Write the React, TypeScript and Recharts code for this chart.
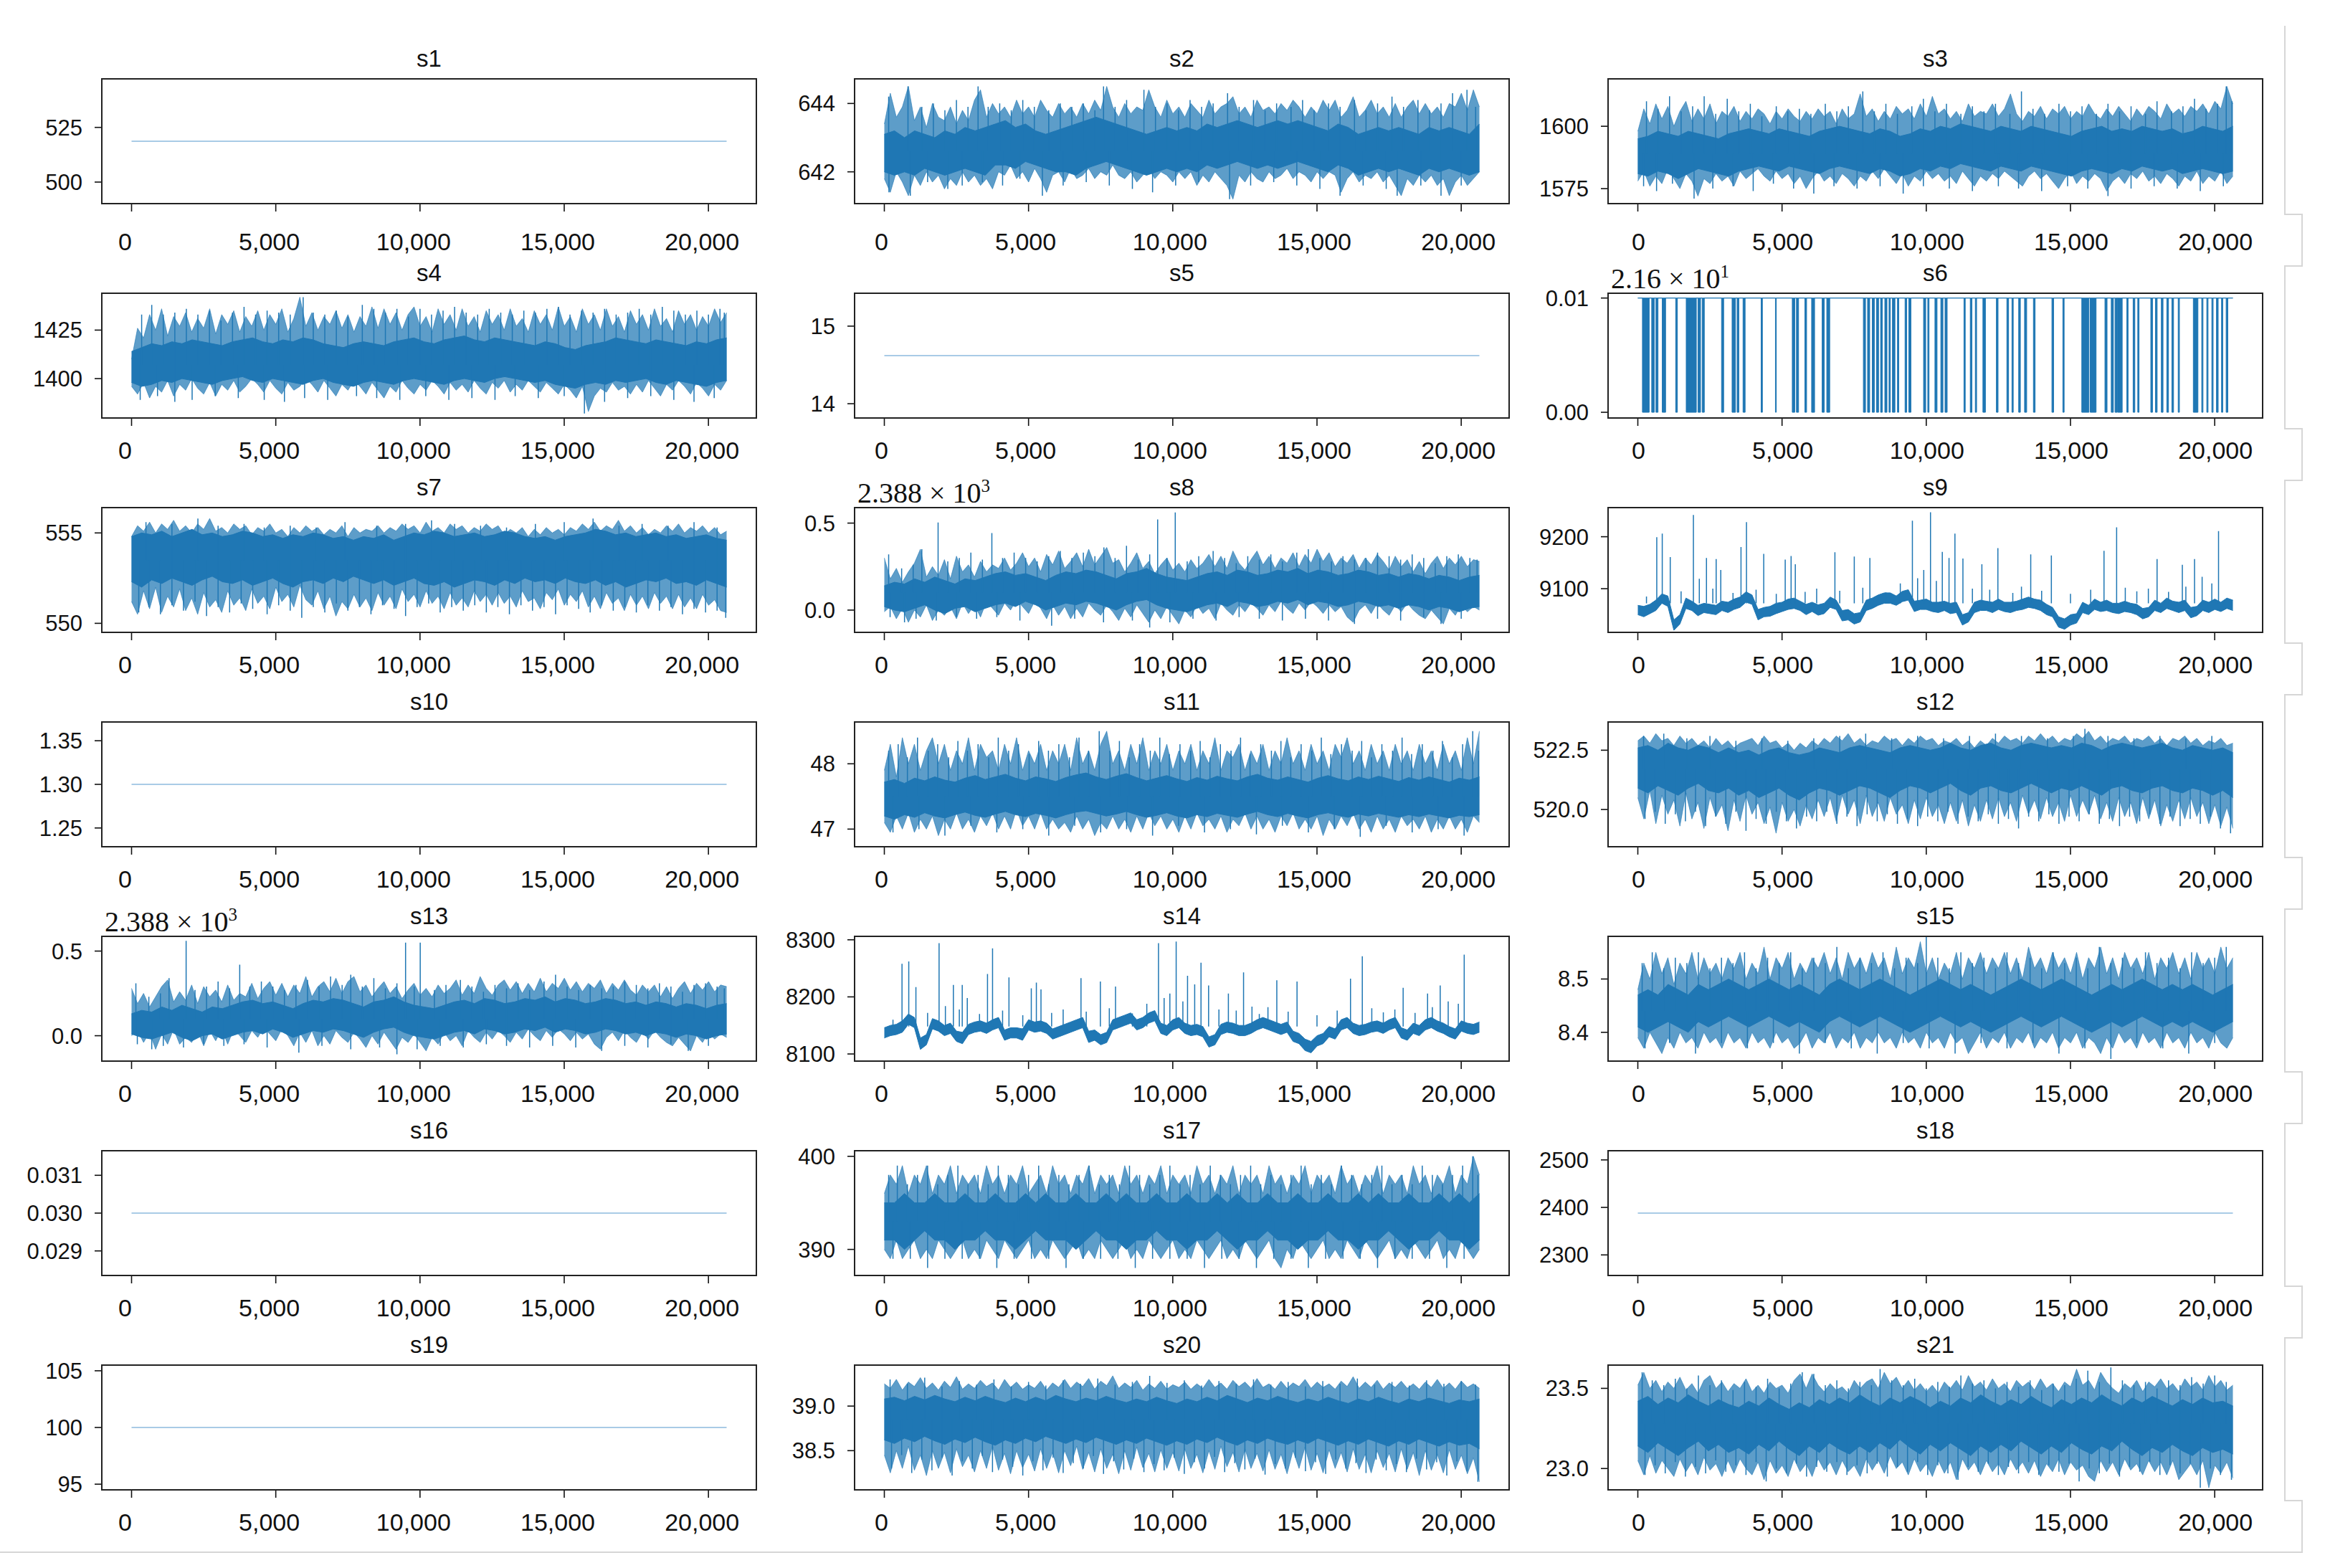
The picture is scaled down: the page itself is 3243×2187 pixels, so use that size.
import { Area, ComposedChart, Line, XAxis, YAxis } from 'recharts';

const BLUE = '#1f77b4';
const FLAT = '#a9cbe6';
const SANS = 'Liberation Sans, Arial, sans-serif';
const SERIF = 'Liberation Serif, Times New Roman, serif';

const N_CYCLES = 20630;
const X_DOMAIN: [number, number] = [-1031.5, 21661.5];
const X_TICKS = [0, 5000, 10000, 15000, 20000];

// panel geometry (page pixels)
const COL_X = [142, 1192, 2243];
const COL_LABEL_DX = [-9, -4, 1];
const ROW_Y = [110, 409, 708, 1007, 1306, 1605, 1904];
const BOX_W = 913;
const BOX_H = 174;
const AXIS_W = 150;
const PAD_TOP = 30;
const PAD_RIGHT = 8;
const AXIS_H = 90;

// constant sensors
const S1 = 518.67;
const S5 = 14.62;
const S10 = 1.3;
const S16 = 0.03;
const S18 = 2388;
const S19 = 100;

// s6: 21.61 with drops to 21.60 over these cycle ranges
const S6_HIGH = 21.61;
const S6_LOW = 21.6;
const S6_DIPS = [
  [160, 394], [481, 569], [627, 700], [846, 963], [1313, 1371], [1678, 2028], [2086, 2174], [2232, 2305],
  [2903, 2976], [3268, 3385], [3443, 3502], [3648, 3720], [4275, 4319], [4771, 4800], [5355, 5442], [5500, 5573],
  [5792, 5851], [6026, 6128], [6390, 6463], [6551, 6653], [7820, 7893], [7966, 8039], [8127, 8200], [8273, 8346],
  [8418, 8477], [8564, 8637], [8710, 8754], [8827, 8914], [9002, 9046], [9265, 9323], [9396, 9469], [9907, 9980],
  [10053, 10096], [10301, 10374], [10505, 10578], [10651, 10724], [11307, 11351], [11526, 11584], [11701, 11745],
  [11964, 12051], [12431, 12489], [12795, 12854], [12971, 13015], [13204, 13262], [13408, 13481], [13715, 13773],
  [14357, 14415], [14736, 14780], [15392, 15640], [15684, 15888], [16195, 16268], [16414, 16487], [16545, 16618],
  [16633, 16793], [16954, 16997], [17172, 17231], [17333, 17377], [17785, 17844], [17946, 18004], [18150, 18208],
  [18340, 18398], [18515, 18573], [18734, 18777], [19259, 19419], [19551, 19594], [19726, 19769], [19901, 19945],
  [20061, 20120], [20237, 20280], [20397, 20455],
];

// noisy sensors, three readings each:
//   *_ENV_LO/HI  outer reach of the trace (100 bins)
//   *_LO/HI      dense core of the trace (60 bins)
//   *_SPIKES     thin excursions [cycle, value]
const S2_MID = 642.6;
const S2_ENV_HI = [
  643.4, 644.3, 643.6, 643.9, 644.5, 643.5, 643.9, 643.3, 644.0, 643.6, 643.5, 643.9, 643.4, 643.8, 643.5, 644.1, 644.4, 643.6, 644.0, 643.7,
  643.9, 643.6, 644.1, 643.7, 643.9, 643.6, 644.1, 643.8, 643.6, 644.0, 643.7, 643.9, 643.6, 644.0, 643.7, 644.1, 643.8, 644.5, 643.9, 643.6,
  644.0, 643.7, 643.9, 643.8, 644.4, 643.9, 643.6, 644.1, 643.7, 643.9, 643.6, 644.0, 643.8, 643.6, 644.1, 643.7, 643.9, 644.0, 644.2, 643.7,
  643.9, 643.6, 644.1, 643.8, 643.9, 643.7, 644.0, 643.8, 644.1, 643.9, 643.6, 643.9, 643.7, 644.1, 643.8, 644.1, 643.6, 643.8, 644.2, 643.6,
  643.8, 644.1, 643.7, 643.9, 643.6, 644.0, 643.6, 643.9, 644.1, 643.7, 644.0, 643.7, 643.9, 643.6, 644.0, 643.9, 644.3, 643.8, 644.4, 643.9,
];
const S2_ENV_LO = [
  641.8, 641.4, 642.0, 641.7, 641.3, 641.9, 641.6, 642.0, 641.7, 641.9, 641.5, 641.8, 641.6, 642.0, 641.7, 641.9, 641.6, 641.8, 641.5, 642.0,
  641.9, 642.2, 641.8, 642.0, 641.7, 642.1, 641.8, 641.4, 641.9, 642.0, 641.7, 642.1, 641.8, 641.9, 642.1, 641.8, 642.0, 641.9, 642.2, 641.9,
  641.8, 642.0, 641.7, 641.9, 642.1, 641.8, 642.0, 641.9, 641.7, 642.0, 641.8, 642.0, 641.6, 641.9, 641.7, 642.0, 641.8, 641.6, 641.2, 641.9,
  641.7, 642.0, 641.8, 641.7, 642.0, 641.8, 641.9, 642.1, 641.8, 642.0, 641.9, 641.7, 642.0, 641.8, 642.0, 641.9, 641.4, 641.8, 642.0, 641.7,
  641.9, 641.8, 642.0, 641.7, 641.9, 641.6, 641.3, 641.8, 641.6, 641.9, 641.7, 641.9, 641.6, 641.8, 641.3, 641.7, 641.9, 641.6, 641.8, 642.0,
];
const S2_LO = [
  642.0, 641.9, 642.0, 641.9, 642.1, 642.0, 641.9, 642.0, 642.1, 642.0, 641.9, 642.2, 642.2, 642.1, 642.3, 642.2, 642.1, 642.0, 642.0, 641.9,
  642.1, 642.2, 642.3, 642.2, 642.1, 642.0, 641.9, 642.0, 642.1, 642.0, 642.1, 642.0, 642.2, 642.1, 642.2, 642.3, 642.2, 642.1, 642.2, 642.1,
  642.2, 642.3, 642.2, 642.1, 642.0, 642.2, 642.1, 641.9, 642.0, 642.1, 642.0, 642.1, 642.0, 641.9, 642.1, 642.0, 642.1, 642.0, 641.9, 642.0,
];
const S2_HI = [
  643.1, 643.2, 643.0, 643.2, 643.1, 643.0, 643.2, 643.1, 643.3, 643.2, 643.3, 643.4, 643.5, 643.3, 643.4, 643.2, 643.1, 643.2, 643.3, 643.4,
  643.5, 643.6, 643.5, 643.4, 643.3, 643.2, 643.1, 643.2, 643.3, 643.2, 643.3, 643.2, 643.4, 643.3, 643.4, 643.5, 643.4, 643.3, 643.4, 643.5,
  643.4, 643.5, 643.4, 643.3, 643.2, 643.4, 643.3, 643.1, 643.2, 643.3, 643.2, 643.3, 643.2, 643.1, 643.3, 643.2, 643.3, 643.2, 643.1, 643.4,
];
const S2_SPIKES = [
  [150, 644.2], [820, 644.5], [1300, 643.9], [1700, 644.0], [2100, 643.8], [2500, 644.1], [2900, 643.9], [3250, 644.5], [3600, 643.9],
  [4000, 644.0], [4400, 643.8], [4800, 644.1], [5200, 643.9], [5700, 643.8], [6100, 644.0], [6500, 643.9], [6900, 644.0], [7300, 643.8],
  [7600, 644.5], [8000, 643.9], [8400, 644.1], [9000, 644.4], [9400, 643.9], [9800, 644.0], [10200, 643.8], [10600, 644.1], [11000, 643.9],
  [11400, 644.0], [11900, 644.3], [12300, 643.9], [12800, 644.1], [13200, 643.8], [13600, 644.0], [14100, 643.9], [14500, 644.1],
  [14900, 643.8], [15400, 644.0], [15800, 643.9], [16300, 644.1], [16700, 643.8], [17100, 644.0], [17600, 644.2], [18000, 643.9],
  [18500, 644.1], [18900, 643.8], [19300, 644.0], [19700, 644.3], [20200, 644.4], [20500, 643.9],
  [160, 641.4], [900, 641.3], [1500, 641.7], [2200, 641.5], [2700, 641.6], [3400, 641.7], [4100, 641.6], [4700, 641.8], [5480, 641.3],
  [6200, 641.6], [7000, 641.7], [7800, 641.6], [8600, 641.5], [9300, 641.4], [10100, 641.6], [10900, 641.7], [11970, 641.2], [12700, 641.6],
  [13500, 641.7], [14300, 641.6], [15100, 641.5], [15800, 641.3], [16600, 641.6], [17400, 641.5], [17780, 641.3], [18600, 641.6],
  [19300, 641.3], [20000, 641.6],
];

const S3_MID = 1589;
const S3_ENV_HI = [
  1598, 1607, 1601, 1609, 1603, 1608, 1600, 1606, 1610, 1602, 1607, 1603, 1609, 1601, 1606, 1604, 1608, 1602, 1606, 1603,
  1607, 1605, 1601, 1606, 1603, 1607, 1604, 1602, 1606, 1603, 1607, 1604, 1606, 1601, 1607, 1603, 1605, 1613, 1604, 1607,
  1602, 1606, 1603, 1608, 1605, 1607, 1603, 1609, 1604, 1612, 1605, 1607, 1603, 1606, 1602, 1609, 1604, 1606, 1605, 1609,
  1604, 1607, 1613, 1605, 1602, 1606, 1604, 1608, 1603, 1607, 1605, 1608, 1603, 1606, 1604, 1609, 1605, 1603, 1607, 1604,
  1608, 1605, 1602, 1607, 1604, 1608, 1606, 1603, 1609, 1605, 1607, 1604, 1608, 1606, 1609, 1605, 1610, 1607, 1616, 1609,
];
const S3_ENV_LO = [
  1578, 1582, 1576, 1580, 1577, 1583, 1579, 1575, 1581, 1578, 1572, 1579, 1577, 1581, 1578, 1580, 1576, 1582, 1579, 1581,
  1583, 1580, 1578, 1582, 1579, 1581, 1577, 1580, 1575, 1579, 1582, 1578, 1580, 1577, 1581, 1579, 1576, 1580, 1578, 1582,
  1579, 1583, 1580, 1577, 1581, 1576, 1580, 1578, 1582, 1579, 1581, 1578, 1580, 1577, 1582, 1579, 1576, 1580, 1578, 1581,
  1579, 1582, 1580, 1578, 1576, 1580, 1582, 1579, 1581, 1578, 1575, 1579, 1582, 1577, 1580, 1578, 1581, 1579, 1574, 1578,
  1580, 1577, 1581, 1579, 1582, 1578, 1580, 1577, 1581, 1579, 1576, 1580, 1578, 1582, 1577, 1580, 1578, 1582, 1577, 1580,
];
const S3_LO = [
  1581, 1580, 1582, 1581, 1579, 1581, 1583, 1582, 1581, 1580, 1582, 1583, 1584, 1583, 1582, 1584, 1583, 1582, 1581, 1583,
  1584, 1583, 1582, 1581, 1583, 1582, 1580, 1581, 1583, 1582, 1584, 1583, 1585, 1584, 1583, 1582, 1584, 1583, 1582, 1584,
  1583, 1582, 1581, 1580, 1582, 1583, 1582, 1581, 1583, 1582, 1584, 1583, 1582, 1583, 1581, 1582, 1583, 1582, 1581, 1582,
];
const S3_HI = [
  1595, 1596, 1598, 1597, 1596, 1598, 1597, 1596, 1595, 1597, 1598, 1599, 1598, 1597, 1599, 1598, 1597, 1596, 1598, 1599,
  1600, 1599, 1598, 1597, 1599, 1598, 1596, 1597, 1599, 1598, 1600, 1599, 1601, 1600, 1599, 1598, 1600, 1599, 1598, 1600,
  1599, 1598, 1597, 1596, 1598, 1599, 1600, 1598, 1599, 1598, 1600, 1599, 1598, 1599, 1597, 1598, 1600, 1599, 1598, 1600,
];
const S3_SPIKES = [
  [300, 1610], [700, 1607], [1100, 1612], [1500, 1606], [1900, 1608], [2300, 1612], [2700, 1605], [3100, 1611], [3500, 1606], [3900, 1609],
  [4300, 1604], [4800, 1608], [5200, 1606], [5600, 1607], [6000, 1605], [6500, 1609], [6900, 1606], [7300, 1608], [7800, 1614], [8200, 1606],
  [8600, 1609], [9000, 1605], [9500, 1608], [9900, 1611], [10300, 1606], [10700, 1609], [11200, 1605], [11600, 1608], [12000, 1606],
  [12400, 1609], [12900, 1605], [13300, 1614], [13700, 1607], [14100, 1605], [14600, 1609], [15000, 1606], [15400, 1608], [15900, 1605],
  [16300, 1609], [16700, 1606], [17100, 1608], [17600, 1605], [18000, 1610], [18500, 1606], [18900, 1608], [19300, 1611], [19700, 1607],
  [20100, 1609], [20400, 1616], [20600, 1610],
  [200, 1576], [650, 1574], [1200, 1577], [1950, 1571], [2600, 1575], [3300, 1576], [4000, 1574], [4700, 1577], [5400, 1575], [6100, 1573],
  [6800, 1576], [7600, 1575], [8400, 1576], [9200, 1573], [9900, 1576], [10800, 1575], [11600, 1574], [12500, 1576], [13200, 1575],
  [14000, 1574], [14900, 1576], [15600, 1575], [16300, 1572], [17100, 1575], [17900, 1576], [18700, 1575], [19500, 1574], [20300, 1576],
];

const S4_MID = 1407;
const S4_ENV_HI = [
  1410, 1426, 1421, 1433, 1425, 1436, 1422, 1432, 1427, 1434, 1424, 1431, 1426, 1436, 1423, 1433, 1428, 1435, 1424, 1432,
  1427, 1435, 1425, 1433, 1428, 1436, 1424, 1431, 1442, 1427, 1434, 1425, 1432, 1428, 1435, 1426, 1433, 1424, 1432, 1427,
  1437, 1426, 1436, 1428, 1434, 1425, 1433, 1437, 1427, 1432, 1424, 1436, 1428, 1433, 1425, 1436, 1427, 1432, 1424, 1435,
  1428, 1433, 1425, 1436, 1427, 1431, 1424, 1435, 1428, 1433, 1425, 1437, 1427, 1432, 1424, 1436, 1428, 1433, 1425, 1436,
  1427, 1432, 1424, 1435, 1428, 1433, 1425, 1436, 1427, 1431, 1424, 1435, 1428, 1433, 1425, 1432, 1427, 1436, 1429, 1434,
];
const S4_ENV_LO = [
  1396, 1392, 1398, 1390, 1396, 1393, 1399, 1391, 1397, 1394, 1400, 1395, 1392, 1398, 1391, 1397, 1394, 1399, 1393, 1396,
  1400, 1397, 1393, 1399, 1395, 1392, 1398, 1394, 1396, 1400, 1397, 1393, 1399, 1395, 1391, 1397, 1394, 1399, 1396, 1392,
  1398, 1394, 1390, 1396, 1393, 1399, 1395, 1392, 1397, 1394, 1399, 1396, 1392, 1398, 1394, 1397, 1393, 1399, 1395, 1392,
  1398, 1395, 1399, 1393, 1397, 1394, 1399, 1396, 1393, 1398, 1395, 1392, 1397, 1394, 1390, 1396, 1383, 1391, 1395, 1393,
  1398, 1394, 1396, 1392, 1397, 1393, 1399, 1395, 1391, 1397, 1394, 1399, 1396, 1392, 1398, 1395, 1391, 1397, 1394, 1399,
];
const S4_LO = [
  1398, 1396, 1397, 1399, 1398, 1400, 1399, 1398, 1397, 1399, 1400, 1401, 1399, 1398, 1400, 1399, 1398, 1397, 1399, 1400,
  1398, 1397, 1396, 1398, 1399, 1398, 1397, 1399, 1400, 1399, 1398, 1397, 1399, 1400, 1399, 1398, 1400, 1401, 1400, 1399,
  1398, 1399, 1397, 1396, 1395, 1397, 1398, 1397, 1399, 1398, 1399, 1400, 1398, 1397, 1399, 1398, 1397, 1396, 1398, 1399,
];
const S4_HI = [
  1414, 1416, 1418, 1417, 1419, 1418, 1420, 1419, 1418, 1417, 1419, 1420, 1421, 1419, 1418, 1420, 1419, 1421, 1420, 1418,
  1417, 1416, 1418, 1419, 1418, 1417, 1419, 1420, 1421, 1419, 1418, 1420, 1421, 1422, 1420, 1419, 1421, 1420, 1419, 1418,
  1417, 1419, 1418, 1416, 1415, 1417, 1418, 1419, 1421, 1420, 1419, 1418, 1420, 1419, 1418, 1417, 1419, 1418, 1420, 1421,
];
const S4_SPIKES = [
  [350, 1433], [700, 1438], [1100, 1433], [1500, 1434], [1900, 1436], [2300, 1433], [2700, 1435], [3100, 1430], [3500, 1434], [3900, 1437],
  [4300, 1433], [4700, 1435], [5100, 1434], [5500, 1433], [5950, 1442], [6300, 1434], [6700, 1433], [7100, 1435], [7500, 1432], [8000, 1438],
  [8400, 1436], [8800, 1434], [9200, 1436], [9600, 1432], [10000, 1436], [10400, 1433], [10800, 1435], [11200, 1437], [11600, 1434],
  [12000, 1433], [12400, 1436], [12800, 1434], [13200, 1433], [13600, 1435], [14000, 1434], [14400, 1436], [14800, 1437], [15200, 1433],
  [15600, 1435], [16000, 1434], [16400, 1436], [16800, 1433], [17200, 1434], [17600, 1436], [18000, 1433], [18400, 1437], [18800, 1435],
  [19200, 1433], [19600, 1435], [20000, 1433], [20400, 1436], [20550, 1434],
  [300, 1389], [900, 1391], [1500, 1388], [2100, 1389], [2900, 1391], [3700, 1390], [4600, 1389], [5300, 1388], [6000, 1390], [6800, 1389],
  [7800, 1391], [8500, 1390], [9300, 1389], [10200, 1391], [11000, 1389], [11800, 1390], [12600, 1389], [13300, 1391], [14100, 1390],
  [15000, 1391], [15700, 1382], [16400, 1388], [17200, 1390], [18000, 1391], [18800, 1389], [19500, 1388], [20200, 1390],
];

const S7_MID = 553.5;
const S7_ENV_HI = [
  554.8, 555.4, 555.1, 555.6, 555.0, 555.5, 555.2, 555.7, 555.1, 555.4, 555.0, 555.5, 555.2, 555.8, 555.1, 555.3, 555.0, 555.5, 555.2, 555.4,
  554.9, 555.3, 555.1, 555.5, 555.0, 555.2, 554.8, 555.3, 555.0, 555.4, 555.1, 555.3, 554.9, 555.2, 555.0, 555.4, 554.8, 555.3, 555.0, 555.2,
  555.1, 555.4, 555.0, 555.3, 555.1, 555.5, 555.2, 555.4, 555.0, 555.6, 555.1, 555.3, 555.0, 555.5, 555.2, 555.4, 555.0, 555.3, 555.1, 555.5,
  555.2, 555.4, 554.9, 555.2, 555.0, 555.3, 554.8, 555.2, 554.9, 555.3, 555.0, 555.2, 554.9, 555.3, 555.1, 555.5, 555.2, 555.6, 555.1, 555.4,
  555.2, 555.7, 555.1, 555.4, 555.0, 555.3, 554.9, 555.2, 555.0, 555.4, 555.1, 555.5, 555.0, 555.3, 555.1, 555.4, 555.0, 555.3, 554.9, 555.1,
];
const S7_ENV_LO = [
  551.2, 550.5, 551.8, 550.8, 552.0, 550.6, 551.5, 550.9, 551.9, 550.7, 551.4, 550.5, 551.7, 550.9, 551.3, 550.6, 551.8, 551.0, 551.4, 550.7,
  551.9, 551.1, 551.5, 550.8, 552.0, 551.2, 551.6, 550.9, 552.1, 551.3, 551.0, 551.8, 550.8, 551.5, 550.4, 551.2, 550.8, 551.6, 550.9, 551.4,
  550.7, 551.7, 551.0, 551.5, 550.8, 551.9, 551.2, 551.6, 550.9, 551.8, 551.1, 551.5, 550.8, 551.7, 551.0, 551.4, 550.9, 551.8, 551.2, 551.6,
  551.0, 551.7, 551.1, 551.5, 550.9, 551.8, 551.2, 551.4, 550.8, 551.7, 551.3, 551.9, 551.0, 551.6, 551.2, 551.8, 550.9, 551.5, 550.8, 551.7,
  551.1, 551.4, 550.7, 551.6, 551.0, 551.5, 550.8, 551.7, 551.1, 551.5, 550.8, 551.6, 550.9, 551.4, 550.8, 551.6, 551.0, 551.3, 550.7, 550.6,
];
const S7_LO = [
  552.3, 552.0, 552.4, 552.2, 552.5, 552.3, 552.1, 552.4, 552.6, 552.3, 552.2, 552.4, 552.1, 552.3, 552.5, 552.2, 552.0, 552.3, 552.4, 552.2,
  552.5, 552.3, 552.6, 552.4, 552.2, 552.4, 552.1, 552.3, 552.5, 552.2, 552.1, 552.3, 552.0, 552.2, 552.4, 552.3, 552.1, 552.4, 552.2, 552.5,
  552.3, 552.4, 552.2, 552.5, 552.3, 552.2, 552.4, 552.1, 552.3, 552.0, 552.2, 552.4, 552.3, 552.5, 552.2, 552.3, 552.1, 552.4, 552.2, 552.0,
];
const S7_HI = [
  554.8, 555.0, 554.9, 555.1, 554.8, 555.0, 555.2, 554.9, 555.0, 554.8, 554.9, 555.1, 555.0, 554.8, 554.9, 554.7, 554.9, 554.8, 555.0, 554.9,
  554.7, 554.8, 554.6, 554.8, 554.7, 554.9, 554.6, 554.8, 555.0, 554.9, 555.1, 555.0, 554.8, 554.9, 555.0, 554.8, 554.9, 555.1, 555.0, 554.8,
  554.7, 554.8, 554.6, 554.8, 554.9, 555.0, 555.2, 555.1, 554.9, 555.0, 554.8, 554.9, 555.0, 554.8, 554.9, 554.7, 554.8, 554.9, 554.7, 554.6,
];
const S7_SPIKES = [
  [500, 555.6], [1400, 555.5], [2300, 555.8], [3000, 555.4], [3900, 555.5], [4600, 555.3], [5500, 555.4], [6400, 555.3], [7400, 555.6],
  [8500, 555.4], [9500, 555.5], [10400, 555.7], [11200, 555.5], [12100, 555.4], [13000, 555.3], [14000, 555.5], [15000, 555.6],
  [16000, 555.8], [16900, 555.4], [17700, 555.5], [18600, 555.4], [19500, 555.6], [20300, 555.3],
  [250, 550.6], [600, 550.9], [1000, 550.5], [1400, 551.0], [1800, 550.7], [2200, 551.2], [2600, 550.4], [3000, 550.9], [3400, 550.6],
  [3800, 551.1], [4200, 550.8], [4700, 550.5], [5100, 551.0], [5500, 550.7], [5900, 550.3], [6300, 550.9], [6700, 550.6], [7100, 551.1],
  [7500, 550.7], [7900, 550.9], [8300, 550.5], [8700, 551.0], [9100, 550.8], [9500, 550.4], [9900, 550.9], [10300, 551.1], [10700, 550.6],
  [11100, 550.9], [11500, 550.7], [11900, 551.0], [12300, 550.6], [12700, 550.9], [13100, 550.5], [13500, 551.0], [13900, 550.7],
  [14300, 550.9], [14700, 550.5], [15100, 551.0], [15500, 550.8], [15900, 550.6], [16300, 551.0], [16700, 550.7], [17100, 550.9],
  [17500, 550.6], [17900, 551.0], [18300, 550.7], [18700, 550.9], [19100, 550.5], [19500, 550.8], [19900, 550.6], [20300, 550.7], [20600, 550.3],
];

const S8_MID = 2388.1;
const S8_ENV_HI = [
  2388.30, 2388.18, 2388.24, 2388.16, 2388.22, 2388.27, 2388.35, 2388.19, 2388.25, 2388.20, 2388.29, 2388.18, 2388.31, 2388.22, 2388.26,
  2388.19, 2388.28, 2388.22, 2388.26, 2388.24, 2388.30, 2388.23, 2388.27, 2388.33, 2388.25, 2388.30, 2388.22, 2388.32, 2388.26, 2388.34,
  2388.24, 2388.28, 2388.33, 2388.25, 2388.35, 2388.26, 2388.31, 2388.36, 2388.27, 2388.29, 2388.22, 2388.27, 2388.33, 2388.24, 2388.28,
  2388.21, 2388.26, 2388.30, 2388.23, 2388.27, 2388.22, 2388.29, 2388.24, 2388.27, 2388.32, 2388.25, 2388.31, 2388.24, 2388.34, 2388.27,
  2388.23, 2388.29, 2388.34, 2388.26, 2388.31, 2388.24, 2388.30, 2388.27, 2388.33, 2388.25, 2388.32, 2388.27, 2388.35, 2388.28, 2388.33,
  2388.25, 2388.30, 2388.27, 2388.32, 2388.24, 2388.30, 2388.26, 2388.32, 2388.28, 2388.23, 2388.31, 2388.25, 2388.29, 2388.22, 2388.28,
  2388.21, 2388.27, 2388.31, 2388.24, 2388.30, 2388.26, 2388.31, 2388.25, 2388.29, 2388.28,
];
const S8_ENV_LO = [
  2387.99, 2388.02, 2387.95, 2388.01, 2387.93, 2388.00, 2387.96, 2388.03, 2387.94, 2388.00, 2387.97, 2388.02, 2387.95, 2388.04, 2387.98,
  2388.03, 2387.96, 2388.05, 2388.01, 2387.97, 2388.04, 2388.00, 2388.06, 2388.02, 2387.98, 2388.05, 2388.01, 2387.95, 2388.03, 2387.97,
  2388.02, 2387.95, 2388.01, 2387.96, 2388.04, 2388.00, 2387.97, 2388.03, 2387.99, 2387.94, 2388.01, 2387.96, 2388.03, 2387.98, 2387.93,
  2388.00, 2387.95, 2388.02, 2387.97, 2387.92, 2388.00, 2387.96, 2388.03, 2387.98, 2388.01, 2387.95, 2388.04, 2388.00, 2387.97, 2388.03,
  2387.99, 2388.04, 2388.01, 2387.97, 2388.03, 2387.99, 2388.05, 2388.01, 2387.98, 2388.04, 2388.00, 2388.05, 2388.02, 2387.98, 2388.03,
  2387.99, 2388.02, 2387.96, 2387.93, 2388.00, 2388.03, 2387.98, 2388.04, 2388.00, 2387.97, 2388.03, 2387.99, 2388.04, 2388.00, 2387.97,
  2387.95, 2388.00, 2387.96, 2387.92, 2388.01, 2387.97, 2388.03, 2387.99, 2388.02, 2388.00,
];
const S8_LO = [
  2388.02, 2388.00, 2387.99, 2388.01, 2388.03, 2388.00, 2387.98, 2388.01, 2388.02, 2387.99, 2388.01, 2388.03, 2388.04, 2388.02, 2388.05,
  2388.03, 2388.00, 2388.02, 2388.04, 2388.03, 2388.05, 2388.04, 2388.02, 2388.00, 2388.03, 2388.05, 2388.06, 2388.03, 2388.01, 2388.00,
  2387.99, 2388.01, 2388.03, 2388.04, 2388.02, 2388.05, 2388.04, 2388.02, 2388.03, 2388.05, 2388.04, 2388.06, 2388.03, 2388.05, 2388.04,
  2388.02, 2388.03, 2388.05, 2388.04, 2388.02, 2388.03, 2388.01, 2388.03, 2388.02, 2388.00, 2388.02, 2388.01, 2387.99, 2388.01, 2388.02,
];
const S8_HI = [
  2388.14, 2388.16, 2388.15, 2388.18, 2388.16, 2388.19, 2388.17, 2388.15, 2388.18, 2388.17, 2388.19, 2388.21, 2388.22, 2388.20, 2388.21,
  2388.19, 2388.17, 2388.20, 2388.22, 2388.21, 2388.23, 2388.22, 2388.20, 2388.18, 2388.21, 2388.22, 2388.24, 2388.21, 2388.19, 2388.18,
  2388.17, 2388.19, 2388.21, 2388.22, 2388.20, 2388.23, 2388.22, 2388.20, 2388.21, 2388.23, 2388.22, 2388.24, 2388.21, 2388.23, 2388.22,
  2388.20, 2388.21, 2388.23, 2388.22, 2388.20, 2388.21, 2388.19, 2388.21, 2388.20, 2388.18, 2388.20, 2388.19, 2388.17, 2388.19, 2388.20,
];
const S8_SPIKES = [
  [150, 2388.32], [600, 2388.24], [1000, 2388.26], [1300, 2388.35], [1864, 2388.503], [2200, 2388.28], [2600, 2388.30], [3000, 2388.33],
  [3400, 2388.29], [3728, 2388.443], [4100, 2388.30], [4500, 2388.33], [4900, 2388.30], [5300, 2388.28], [5700, 2388.31], [6100, 2388.34],
  [6500, 2388.30], [6900, 2388.33], [7300, 2388.31], [7612, 2388.36], [8000, 2388.30], [8396, 2388.37], [8800, 2388.29], [9200, 2388.32],
  [9476, 2388.521], [9800, 2388.30], [10086, 2388.561], [10500, 2388.28], [10900, 2388.31], [11400, 2388.34], [11800, 2388.30],
  [12200, 2388.27], [12600, 2388.31], [13000, 2388.29], [13400, 2388.32], [13800, 2388.28], [14300, 2388.33], [14700, 2388.35],
  [15100, 2388.30], [15500, 2388.28], [15900, 2388.31], [16300, 2388.29], [16700, 2388.30], [17100, 2388.33], [17500, 2388.31],
  [17900, 2388.29], [18300, 2388.32], [18700, 2388.30], [19100, 2388.27], [19500, 2388.31], [19900, 2388.32], [20300, 2388.30], [20550, 2388.29],
  [200, 2387.96], [700, 2387.93], [1100, 2387.95], [1800, 2387.94], [2500, 2387.96], [3200, 2387.95], [3900, 2387.96], [4700, 2387.94],
  [5800, 2387.91], [6600, 2387.95], [7600, 2387.93], [8600, 2387.94], [9200, 2387.90], [9900, 2387.93], [10700, 2387.95], [11500, 2387.94],
  [12300, 2387.96], [13000, 2387.95], [13800, 2387.94], [14600, 2387.95], [15400, 2387.94], [16300, 2387.92], [17100, 2387.95],
  [17900, 2387.94], [18700, 2387.96], [19300, 2387.92], [20000, 2387.95],
];

// s9 / s14: narrow base trace (100 bins) with sharp peaks rising from it
const S9_FOOT = 9072;
const S9_LO = [
  9050, 9046, 9052, 9058, 9072, 9066, 9020, 9032, 9062, 9058, 9048, 9054, 9052, 9050, 9058, 9054, 9060, 9064, 9074, 9070,
  9040, 9046, 9047, 9052, 9056, 9060, 9062, 9058, 9050, 9056, 9049, 9052, 9064, 9060, 9038, 9040, 9032, 9036, 9058, 9062,
  9068, 9072, 9072, 9068, 9075, 9078, 9056, 9060, 9060, 9056, 9054, 9058, 9052, 9054, 9030, 9036, 9054, 9058, 9058, 9054,
  9060, 9056, 9054, 9058, 9060, 9064, 9062, 9058, 9050, 9046, 9026, 9022, 9030, 9034, 9054, 9050, 9060, 9056, 9058, 9054,
  9052, 9056, 9054, 9050, 9042, 9046, 9058, 9054, 9062, 9058, 9054, 9058, 9044, 9048, 9058, 9054, 9060, 9056, 9062, 9058,
];
const S9_HI = [
  9068, 9066, 9070, 9078, 9090, 9086, 9040, 9050, 9082, 9076, 9068, 9072, 9070, 9068, 9076, 9074, 9080, 9084, 9094, 9088,
  9060, 9064, 9066, 9072, 9074, 9080, 9082, 9076, 9070, 9074, 9069, 9072, 9084, 9078, 9058, 9060, 9052, 9054, 9078, 9082,
  9088, 9092, 9092, 9086, 9095, 9098, 9076, 9078, 9080, 9074, 9074, 9076, 9072, 9074, 9050, 9054, 9074, 9078, 9076, 9074,
  9080, 9074, 9074, 9076, 9080, 9084, 9080, 9078, 9070, 9064, 9046, 9042, 9050, 9052, 9074, 9068, 9080, 9074, 9078, 9072,
  9072, 9076, 9072, 9070, 9062, 9064, 9078, 9072, 9082, 9076, 9074, 9078, 9064, 9066, 9078, 9074, 9080, 9074, 9082, 9078,
];
const S9_SPIKES = [
  [657, 9199], [847, 9206], [1124, 9161], [1927, 9242], [2132, 9119], [2380, 9159], [2716, 9157], [2876, 9136], [3577, 9180],
  [3767, 9228], [4365, 9167], [5110, 9156], [5314, 9163], [5460, 9147], [6833, 9170], [7504, 9162], [8045, 9159], [9519, 9231],
  [9913, 9136], [10147, 9247], [10556, 9171], [10789, 9159], [10994, 9206], [11271, 9158], [11928, 9147], [12483, 9178],
  [13622, 9166], [14337, 9164], [16162, 9173], [16600, 9218], [18002, 9157], [18878, 9146], [19301, 9157], [19564, 9123], [20133, 9211],
  [300, 9085], [1500, 9095], [2600, 9100], [3300, 9092], [4100, 9098], [4800, 9090], [5800, 9094], [6200, 9100], [7000, 9096],
  [7800, 9102], [8600, 9093], [9100, 9110], [9700, 9120], [10350, 9115], [11600, 9100], [12200, 9098], [13000, 9092], [13300, 9104],
  [14000, 9096], [15000, 9090], [15700, 9098], [16900, 9102], [17300, 9095], [17700, 9100], [18400, 9094], [19000, 9104], [19900, 9110],
];

const S11_MID = 47.5;
const S11_ENV_HI = [
  47.9, 48.3, 47.8, 48.4, 48.0, 48.3, 47.9, 48.2, 48.4, 48.0, 48.3, 47.9, 48.2, 48.0, 48.4, 47.9, 48.3, 48.1, 48.2, 47.9,
  48.3, 48.0, 48.4, 47.9, 48.2, 48.0, 48.3, 47.9, 48.2, 48.0, 48.3, 47.9, 48.4, 48.0, 48.2, 47.9, 48.3, 48.5, 48.0, 48.2,
  47.9, 48.3, 48.0, 48.4, 47.9, 48.2, 48.0, 48.3, 47.9, 48.2, 48.0, 48.3, 47.9, 48.2, 48.0, 48.4, 47.9, 48.2, 48.1, 48.3,
  47.9, 48.2, 48.0, 48.3, 47.9, 48.2, 48.0, 48.4, 48.0, 48.2, 47.9, 48.3, 48.0, 48.2, 47.9, 48.3, 48.1, 48.4, 48.0, 48.2,
  47.9, 48.3, 48.0, 48.2, 47.9, 48.3, 48.0, 48.2, 47.9, 48.3, 48.0, 48.2, 47.9, 48.3, 48.0, 48.2, 47.9, 48.4, 48.0, 48.5,
];
const S11_ENV_LO = [
  47.1, 46.95, 47.2, 47.0, 47.25, 46.95, 47.15, 47.0, 47.2, 46.9, 47.15, 47.0, 47.25, 47.0, 47.15, 46.95, 47.2, 47.05, 47.25, 47.0,
  47.2, 47.0, 47.3, 47.05, 47.2, 47.0, 47.25, 47.0, 47.15, 47.0, 47.1, 46.95, 47.2, 47.0, 47.15, 46.9, 47.1, 47.0, 47.2, 47.0,
  47.15, 46.95, 47.2, 47.0, 47.25, 47.05, 47.2, 47.0, 47.15, 46.95, 47.2, 47.0, 47.25, 47.05, 47.15, 47.0, 47.2, 46.95, 47.15, 47.05,
  47.25, 47.0, 47.2, 47.0, 47.15, 46.95, 47.2, 47.05, 47.25, 47.0, 47.15, 47.0, 47.2, 46.9, 47.15, 47.0, 47.2, 47.05, 47.25, 47.0,
  47.15, 46.95, 47.2, 47.0, 47.15, 46.95, 47.2, 47.05, 47.15, 47.0, 47.2, 46.95, 47.15, 47.0, 47.2, 47.0, 47.15, 46.95, 47.2, 47.1,
];
const S11_LO = [
  47.20, 47.15, 47.22, 47.18, 47.25, 47.20, 47.17, 47.22, 47.26, 47.21, 47.18, 47.23, 47.27, 47.22, 47.19, 47.24, 47.21, 47.17, 47.22, 47.26,
  47.28, 47.24, 47.20, 47.23, 47.27, 47.22, 47.18, 47.21, 47.25, 47.20, 47.17, 47.22, 47.19, 47.24, 47.21, 47.18, 47.23, 47.27, 47.22, 47.19,
  47.24, 47.20, 47.17, 47.22, 47.25, 47.21, 47.18, 47.23, 47.20, 47.24, 47.21, 47.18, 47.22, 47.19, 47.23, 47.20, 47.17, 47.21, 47.19, 47.22,
];
const S11_HI = [
  47.72, 47.76, 47.70, 47.78, 47.74, 47.80, 47.75, 47.72, 47.78, 47.82, 47.76, 47.80, 47.84, 47.78, 47.74, 47.80, 47.77, 47.73, 47.79, 47.83,
  47.86, 47.80, 47.76, 47.81, 47.85, 47.79, 47.74, 47.78, 47.82, 47.77, 47.73, 47.79, 47.75, 47.81, 47.77, 47.74, 47.80, 47.84, 47.78, 47.75,
  47.80, 47.76, 47.72, 47.78, 47.82, 47.77, 47.74, 47.80, 47.76, 47.81, 47.77, 47.73, 47.79, 47.75, 47.80, 47.76, 47.72, 47.78, 47.75, 47.80,
];
const S11_SPIKES = [
  [150, 48.2], [480, 48.3], [800, 48.1], [1150, 48.4], [1520, 48.2], [1850, 48.3], [2230, 48.1], [2550, 48.35], [2880, 48.2], [3250, 48.3],
  [3620, 48.1], [3950, 48.4], [4310, 48.2], [4650, 48.3], [5020, 48.15], [5350, 48.35], [5690, 48.2], [6050, 48.3], [6420, 48.1], [6750, 48.4],
  [7080, 48.2], [7450, 48.5], [7820, 48.2], [8150, 48.35], [8490, 48.1], [8850, 48.3], [9220, 48.2], [9550, 48.4], [9880, 48.15], [10250, 48.3],
  [10620, 48.2], [10950, 48.35], [11290, 48.1], [11650, 48.3], [12020, 48.2], [12350, 48.4], [12680, 48.15], [13050, 48.3], [13420, 48.2],
  [13750, 48.35], [14090, 48.1], [14450, 48.3], [14820, 48.2], [15150, 48.4], [15480, 48.15], [15850, 48.3], [16220, 48.2], [16550, 48.35],
  [16890, 48.1], [17250, 48.3], [17620, 48.2], [17950, 48.4], [18280, 48.15], [18650, 48.3], [19020, 48.2], [19350, 48.35], [19690, 48.1],
  [20050, 48.3], [20400, 48.5], [20600, 48.2],
  [300, 46.95], [1200, 47.0], [2100, 46.9], [3000, 47.05], [3900, 46.95], [4800, 47.0], [5700, 46.9], [6600, 47.05], [7500, 46.95],
  [8400, 47.0], [9300, 46.9], [10200, 47.05], [11100, 46.95], [12000, 47.0], [12900, 46.92], [13800, 47.05], [14700, 46.95], [15600, 47.0],
  [16500, 46.88], [17400, 47.05], [18300, 46.95], [19200, 47.0], [20100, 46.9],
];

const S12_MID = 521.7;
const S12_ENV_HI = [
  522.9, 523.1, 522.8, 523.2, 522.9, 523.0, 522.7, 523.1, 522.8, 523.0, 522.7, 522.9, 522.6, 523.0, 522.7, 522.9, 522.6, 522.8, 522.9, 523.0,
  522.7, 523.1, 522.8, 522.9, 522.6, 522.8, 522.5, 522.8, 522.6, 522.9, 522.7, 523.0, 522.8, 523.1, 522.9, 523.2, 522.8, 523.0, 522.7, 522.9,
  522.8, 523.1, 522.9, 523.0, 522.7, 523.0, 522.8, 523.1, 522.9, 523.0, 522.7, 522.9, 522.8, 523.0, 522.7, 522.9, 522.6, 522.9, 522.7, 523.0,
  522.8, 523.1, 522.9, 523.0, 522.8, 523.1, 522.9, 523.2, 522.9, 523.1, 522.8, 523.0, 522.9, 523.2, 523.0, 523.3, 522.9, 523.1, 522.8, 523.0,
  522.9, 523.1, 522.8, 523.0, 522.9, 523.1, 522.8, 523.0, 522.7, 523.0, 522.9, 523.1, 522.8, 523.0, 522.7, 522.9, 522.8, 523.0, 522.7, 522.8,
];
const S12_ENV_LO = [
  520.5, 519.6, 520.8, 519.4, 520.6, 519.8, 520.4, 519.3, 520.7, 519.6, 520.3, 519.2, 520.5, 519.7, 520.2, 519.1, 520.4, 519.5, 520.6, 519.8,
  520.3, 519.4, 520.1, 519.0, 520.3, 519.5, 520.0, 519.3, 520.2, 519.6, 520.4, 519.7, 520.5, 519.5, 520.6, 519.8, 520.4, 519.4, 520.6, 519.7,
  520.3, 519.5, 520.5, 519.8, 520.2, 519.4, 520.4, 519.6, 520.5, 519.7, 520.2, 519.4, 520.3, 519.5, 520.4, 519.3, 520.2, 519.5, 520.4, 519.6,
  520.5, 519.7, 520.3, 519.5, 520.6, 519.8, 520.4, 519.6, 520.5, 519.7, 520.3, 519.5, 520.6, 519.7, 520.4, 519.8, 520.6, 519.6, 520.3, 519.5,
  520.5, 519.7, 520.3, 519.4, 520.5, 519.6, 520.4, 519.3, 520.2, 519.5, 520.4, 519.6, 520.5, 519.7, 520.3, 519.4, 520.2, 519.3, 520.1, 519.2,
];
const S12_LO = [
  520.9, 520.7, 521.0, 520.8, 520.6, 520.9, 521.1, 520.8, 520.7, 520.9, 520.6, 520.8, 520.5, 520.7, 520.9, 520.6, 520.4, 520.7, 520.9, 520.8,
  520.6, 520.8, 521.0, 520.9, 520.7, 520.5, 520.8, 521.0, 520.9, 520.7, 520.9, 521.1, 520.8, 520.6, 520.9, 521.0, 520.8, 520.7, 520.9, 521.1,
  520.9, 520.7, 520.9, 520.8, 521.0, 520.8, 520.6, 520.9, 521.0, 520.8, 520.7, 520.9, 521.0, 520.8, 520.7, 520.9, 520.8, 520.6, 520.8, 520.5,
];
const S12_HI = [
  522.6, 522.7, 522.5, 522.8, 522.6, 522.5, 522.7, 522.6, 522.4, 522.6, 522.4, 522.5, 522.3, 522.5, 522.6, 522.4, 522.3, 522.4, 522.6, 522.5,
  522.4, 522.6, 522.7, 522.6, 522.5, 522.4, 522.6, 522.7, 522.6, 522.5, 522.6, 522.8, 522.6, 522.5, 522.7, 522.8, 522.6, 522.5, 522.7, 522.8,
  522.7, 522.6, 522.7, 522.6, 522.8, 522.7, 522.5, 522.7, 522.8, 522.7, 522.6, 522.7, 522.8, 522.6, 522.5, 522.7, 522.6, 522.5, 522.6, 522.4,
];
const S12_SPIKES = [
  [200, 523.1], [900, 523.2], [1700, 523.0], [2500, 523.1], [3400, 522.9], [4300, 523.0], [5200, 522.9], [6100, 523.0], [7000, 523.1],
  [7900, 523.2], [8800, 523.0], [9700, 523.1], [10600, 523.0], [11500, 523.1], [12400, 523.2], [13300, 523.1], [14200, 523.0], [15100, 523.1],
  [15500, 523.4], [16300, 523.1], [17200, 523.0], [18100, 523.1], [19000, 523.0], [19900, 523.1],
  [250, 519.6], [600, 519.9], [950, 519.4], [1300, 519.8], [1650, 519.5], [2000, 519.9], [2350, 519.3], [2700, 519.7], [3050, 519.4],
  [3400, 519.9], [3750, 519.1], [4100, 519.6], [4450, 519.4], [4800, 519.9], [5150, 519.5], [5500, 519.2], [5850, 519.7], [6200, 519.5],
  [6550, 519.9], [6900, 519.4], [7250, 519.7], [7600, 519.3], [7950, 519.8], [8300, 519.5], [8650, 519.8], [9000, 519.4], [9350, 519.6],
  [9700, 519.3], [10050, 519.7], [10400, 519.5], [10750, 519.9], [11100, 519.4], [11450, 519.7], [11800, 519.5], [12150, 519.8],
  [12500, 519.4], [12850, 519.6], [13200, 519.2], [13550, 519.7], [13900, 519.5], [14250, 519.8], [14600, 519.4], [14950, 519.7],
  [15300, 519.5], [15650, 519.8], [16000, 519.4], [16350, 519.6], [16700, 519.3], [17050, 519.7], [17400, 519.5], [17750, 519.8],
  [18100, 519.4], [18450, 519.7], [18800, 519.3], [19150, 519.6], [19500, 519.4], [19850, 519.7], [20200, 519.2], [20550, 519.0],
];

const S13_MID = 2388.1;
const S13_ENV_HI = [
  2388.28, 2388.19, 2388.25, 2388.17, 2388.23, 2388.29, 2388.33, 2388.20, 2388.26, 2388.21, 2388.30, 2388.19, 2388.29, 2388.23, 2388.27,
  2388.20, 2388.30, 2388.21, 2388.25, 2388.23, 2388.31, 2388.22, 2388.28, 2388.32, 2388.24, 2388.31, 2388.23, 2388.30, 2388.25, 2388.35,
  2388.23, 2388.29, 2388.32, 2388.26, 2388.34, 2388.25, 2388.32, 2388.35, 2388.26, 2388.30, 2388.23, 2388.28, 2388.32, 2388.25, 2388.29,
  2388.22, 2388.27, 2388.31, 2388.24, 2388.28, 2388.23, 2388.30, 2388.25, 2388.28, 2388.33, 2388.24, 2388.30, 2388.25, 2388.35, 2388.28,
  2388.24, 2388.30, 2388.33, 2388.27, 2388.32, 2388.25, 2388.31, 2388.26, 2388.34, 2388.26, 2388.31, 2388.28, 2388.34, 2388.27, 2388.32,
  2388.26, 2388.31, 2388.28, 2388.33, 2388.25, 2388.31, 2388.27, 2388.33, 2388.27, 2388.24, 2388.30, 2388.26, 2388.30, 2388.23, 2388.29,
  2388.22, 2388.28, 2388.32, 2388.25, 2388.31, 2388.27, 2388.32, 2388.26, 2388.30, 2388.29,
];
const S13_ENV_LO = [
  2388.00, 2388.03, 2387.96, 2388.02, 2387.92, 2388.01, 2387.95, 2388.04, 2387.95, 2387.99, 2387.96, 2388.03, 2387.94, 2388.03, 2387.97,
  2388.04, 2387.95, 2388.04, 2388.00, 2387.96, 2388.03, 2387.99, 2388.05, 2388.01, 2387.97, 2388.04, 2388.00, 2387.94, 2388.02, 2387.96,
  2388.03, 2387.94, 2388.00, 2387.95, 2388.03, 2387.99, 2387.96, 2388.02, 2387.98, 2387.93, 2388.00, 2387.95, 2388.02, 2387.97, 2387.92,
  2387.99, 2387.96, 2388.01, 2387.96, 2387.91, 2387.99, 2387.95, 2388.02, 2387.97, 2388.00, 2387.94, 2388.03, 2387.99, 2387.96, 2388.02,
  2387.98, 2388.03, 2388.00, 2387.96, 2388.02, 2387.98, 2388.04, 2388.00, 2387.97, 2388.03, 2387.99, 2388.04, 2388.01, 2387.97, 2388.02,
  2387.98, 2388.01, 2387.95, 2387.92, 2387.99, 2388.02, 2387.97, 2388.03, 2387.99, 2387.96, 2388.02, 2387.98, 2388.03, 2387.99, 2387.96,
  2387.94, 2387.99, 2387.95, 2387.91, 2388.00, 2387.96, 2388.02, 2387.98, 2388.01, 2387.99,
];
const S13_LO = [
  2388.01, 2387.99, 2387.98, 2388.00, 2388.02, 2387.99, 2387.97, 2388.00, 2388.01, 2387.98, 2388.00, 2388.02, 2388.03, 2388.01, 2388.04,
  2388.02, 2387.99, 2388.01, 2388.03, 2388.02, 2388.04, 2388.03, 2388.01, 2387.99, 2388.02, 2388.04, 2388.05, 2388.02, 2388.00, 2387.99,
  2387.98, 2388.00, 2388.02, 2388.03, 2388.01, 2388.04, 2388.03, 2388.01, 2388.02, 2388.04, 2388.03, 2388.05, 2388.02, 2388.04, 2388.03,
  2388.01, 2388.02, 2388.04, 2388.03, 2388.01, 2388.02, 2388.00, 2388.02, 2388.01, 2387.99, 2388.01, 2388.00, 2387.98, 2388.00, 2388.01,
];
const S13_HI = [
  2388.13, 2388.15, 2388.14, 2388.17, 2388.15, 2388.18, 2388.16, 2388.14, 2388.17, 2388.16, 2388.18, 2388.20, 2388.21, 2388.19, 2388.20,
  2388.18, 2388.16, 2388.19, 2388.21, 2388.20, 2388.22, 2388.21, 2388.19, 2388.17, 2388.20, 2388.21, 2388.23, 2388.20, 2388.18, 2388.17,
  2388.16, 2388.18, 2388.20, 2388.21, 2388.19, 2388.22, 2388.21, 2388.19, 2388.20, 2388.22, 2388.21, 2388.23, 2388.20, 2388.22, 2388.21,
  2388.19, 2388.20, 2388.22, 2388.21, 2388.19, 2388.20, 2388.18, 2388.20, 2388.19, 2388.17, 2388.19, 2388.18, 2388.16, 2388.18, 2388.19,
];
const S13_SPIKES = [
  [150, 2388.31], [600, 2388.23], [1000, 2388.25], [1300, 2388.34], [1892, 2388.56], [2200, 2388.27], [2600, 2388.29], [3000, 2388.32],
  [3400, 2388.28], [3750, 2388.42], [4100, 2388.29], [4500, 2388.32], [4900, 2388.29], [5300, 2388.27], [5700, 2388.30], [6100, 2388.33],
  [6500, 2388.29], [6900, 2388.35], [7300, 2388.30], [7600, 2388.36], [8000, 2388.29], [8400, 2388.34], [8800, 2388.28], [9200, 2388.31],
  [9500, 2388.55], [9800, 2388.29], [10008, 2388.55], [10500, 2388.27], [10900, 2388.30], [11400, 2388.33], [11800, 2388.29],
  [12200, 2388.26], [12600, 2388.30], [13000, 2388.28], [13400, 2388.31], [13800, 2388.27], [14300, 2388.32], [14700, 2388.36],
  [15100, 2388.29], [15500, 2388.27], [15900, 2388.30], [16300, 2388.28], [16700, 2388.29], [17100, 2388.32], [17500, 2388.30],
  [17900, 2388.28], [18300, 2388.31], [18700, 2388.29], [19100, 2388.26], [19500, 2388.30], [19900, 2388.31], [20300, 2388.29], [20550, 2388.28],
  [200, 2387.95], [700, 2387.92], [1100, 2387.94], [1800, 2387.93], [2500, 2387.95], [3200, 2387.94], [3900, 2387.95], [4700, 2387.93],
  [5800, 2387.90], [6600, 2387.94], [7600, 2387.92], [8600, 2387.93], [9200, 2387.89], [9900, 2387.92], [10700, 2387.94], [11500, 2387.93],
  [12300, 2387.95], [13000, 2387.94], [13800, 2387.93], [14600, 2387.94], [15400, 2387.93], [16300, 2387.91], [17100, 2387.94],
  [17900, 2387.93], [18700, 2387.95], [19300, 2387.91], [20000, 2387.94],
];

const S14_FOOT = 8148;
const S14_LO = [
  8128, 8132, 8134, 8138, 8152, 8146, 8108, 8116, 8144, 8140, 8132, 8136, 8122, 8118, 8134, 8138, 8140, 8136, 8142, 8146,
  8124, 8128, 8128, 8124, 8142, 8138, 8140, 8136, 8126, 8130, 8134, 8138, 8142, 8146, 8120, 8124, 8116, 8120, 8142, 8146,
  8150, 8154, 8142, 8146, 8154, 8158, 8136, 8132, 8142, 8146, 8136, 8132, 8134, 8130, 8112, 8116, 8134, 8138, 8136, 8132,
  8132, 8136, 8142, 8146, 8142, 8138, 8134, 8138, 8122, 8118, 8106, 8102, 8114, 8118, 8130, 8126, 8142, 8146, 8136, 8132,
  8134, 8138, 8140, 8136, 8142, 8146, 8128, 8124, 8136, 8132, 8142, 8146, 8140, 8136, 8130, 8126, 8140, 8136, 8134, 8138,
];
const S14_HI = [
  8146, 8150, 8152, 8158, 8170, 8164, 8128, 8134, 8162, 8158, 8150, 8154, 8140, 8138, 8152, 8156, 8158, 8154, 8160, 8164,
  8142, 8146, 8146, 8144, 8160, 8156, 8158, 8154, 8144, 8148, 8152, 8156, 8160, 8164, 8140, 8142, 8134, 8138, 8160, 8164,
  8168, 8172, 8160, 8164, 8172, 8176, 8154, 8150, 8160, 8164, 8154, 8150, 8152, 8148, 8130, 8134, 8152, 8156, 8154, 8150,
  8150, 8154, 8160, 8164, 8160, 8156, 8152, 8156, 8140, 8136, 8126, 8122, 8132, 8136, 8148, 8144, 8160, 8164, 8154, 8150,
  8152, 8156, 8158, 8154, 8160, 8164, 8146, 8142, 8154, 8150, 8160, 8164, 8158, 8154, 8148, 8144, 8158, 8154, 8152, 8156,
];
const S14_SPIKES = [
  [613, 8258], [847, 8262], [1095, 8217], [1898, 8294], [2117, 8184], [2394, 8221], [2701, 8221], [2876, 8198], [3577, 8240],
  [3752, 8285], [4321, 8234], [5095, 8215], [5271, 8225], [5431, 8213], [6818, 8233], [7490, 8227], [8015, 8218], [9505, 8294],
  [9899, 8206], [10118, 8297], [10512, 8237], [10760, 8222], [10979, 8260], [11242, 8220], [11928, 8206], [12454, 8243],
  [12746, 8183], [13607, 8229], [14308, 8227], [16162, 8232], [16571, 8271], [17987, 8216], [18834, 8206], [19272, 8220],
  [19549, 8192], [20104, 8274],
  [300, 8160], [1500, 8172], [2600, 8178], [3300, 8170], [4100, 8176], [4800, 8168], [5800, 8172], [6200, 8178], [7000, 8174],
  [7800, 8180], [8600, 8171], [9100, 8188], [9700, 8198], [10350, 8192], [11600, 8178], [12200, 8176], [13000, 8170], [13300, 8182],
  [14000, 8174], [15000, 8168], [15700, 8176], [16900, 8180], [17300, 8173], [17700, 8178], [18400, 8172], [19000, 8182], [19900, 8188],
];

const S15_MID = 8.44;
const S15_ENV_HI = [
  8.48, 8.53, 8.50, 8.55, 8.51, 8.54, 8.49, 8.53, 8.51, 8.55, 8.50, 8.54, 8.51, 8.53, 8.50, 8.54, 8.52, 8.55, 8.50, 8.53,
  8.51, 8.56, 8.50, 8.54, 8.52, 8.55, 8.50, 8.53, 8.51, 8.54, 8.52, 8.55, 8.51, 8.54, 8.50, 8.55, 8.52, 8.54, 8.51, 8.55,
  8.52, 8.54, 8.50, 8.56, 8.51, 8.54, 8.52, 8.57, 8.51, 8.54, 8.50, 8.53, 8.51, 8.55, 8.50, 8.54, 8.52, 8.55, 8.51, 8.54,
  8.52, 8.55, 8.51, 8.54, 8.50, 8.56, 8.52, 8.54, 8.51, 8.55, 8.52, 8.54, 8.51, 8.55, 8.50, 8.54, 8.52, 8.56, 8.51, 8.54,
  8.50, 8.55, 8.52, 8.54, 8.51, 8.55, 8.50, 8.54, 8.52, 8.55, 8.51, 8.54, 8.50, 8.55, 8.52, 8.54, 8.51, 8.56, 8.52, 8.54,
];
const S15_ENV_LO = [
  8.39, 8.37, 8.40, 8.38, 8.36, 8.39, 8.37, 8.40, 8.38, 8.39, 8.37, 8.40, 8.38, 8.39, 8.37, 8.40, 8.38, 8.39, 8.37, 8.40,
  8.38, 8.39, 8.37, 8.40, 8.38, 8.39, 8.37, 8.38, 8.40, 8.37, 8.39, 8.38, 8.40, 8.37, 8.39, 8.38, 8.40, 8.37, 8.39, 8.38,
  8.40, 8.38, 8.39, 8.37, 8.40, 8.38, 8.39, 8.37, 8.40, 8.38, 8.39, 8.37, 8.40, 8.38, 8.39, 8.36, 8.38, 8.40, 8.37, 8.39,
  8.38, 8.40, 8.37, 8.39, 8.38, 8.40, 8.37, 8.39, 8.38, 8.40, 8.37, 8.39, 8.38, 8.40, 8.37, 8.39, 8.38, 8.36, 8.39, 8.37,
  8.40, 8.38, 8.39, 8.37, 8.40, 8.38, 8.39, 8.37, 8.40, 8.38, 8.39, 8.37, 8.40, 8.38, 8.39, 8.37, 8.40, 8.38, 8.37, 8.39,
];
const S15_LO = [
  8.41, 8.40, 8.41, 8.42, 8.41, 8.40, 8.42, 8.41, 8.42, 8.43, 8.42, 8.41, 8.42, 8.43, 8.42, 8.41, 8.42, 8.41, 8.40, 8.42,
  8.43, 8.42, 8.41, 8.42, 8.43, 8.42, 8.41, 8.40, 8.41, 8.42, 8.43, 8.42, 8.41, 8.42, 8.41, 8.40, 8.41, 8.42, 8.43, 8.42,
  8.41, 8.42, 8.43, 8.42, 8.41, 8.40, 8.41, 8.42, 8.41, 8.42, 8.43, 8.42, 8.41, 8.42, 8.41, 8.42, 8.41, 8.40, 8.41, 8.42,
];
const S15_HI = [
  8.47, 8.48, 8.47, 8.49, 8.48, 8.47, 8.49, 8.48, 8.49, 8.50, 8.49, 8.48, 8.49, 8.50, 8.49, 8.48, 8.49, 8.48, 8.47, 8.49,
  8.50, 8.49, 8.48, 8.49, 8.50, 8.49, 8.48, 8.47, 8.48, 8.49, 8.50, 8.49, 8.48, 8.49, 8.48, 8.47, 8.48, 8.49, 8.50, 8.49,
  8.48, 8.49, 8.50, 8.49, 8.48, 8.47, 8.48, 8.49, 8.48, 8.49, 8.50, 8.49, 8.48, 8.49, 8.48, 8.49, 8.48, 8.47, 8.48, 8.49,
];
const S15_SPIKES = [
  [150, 8.53], [500, 8.55], [900, 8.52], [1300, 8.54], [1700, 8.53], [2100, 8.55], [2500, 8.52], [2900, 8.54], [3300, 8.53], [3700, 8.55],
  [4100, 8.52], [4500, 8.54], [4900, 8.53], [5300, 8.55], [5700, 8.52], [6100, 8.54], [6500, 8.53], [6900, 8.56], [7300, 8.52], [7700, 8.54],
  [8100, 8.53], [8500, 8.55], [8900, 8.52], [9300, 8.54], [9700, 8.53], [10000, 8.58], [10400, 8.54], [10800, 8.52], [11200, 8.55],
  [11600, 8.53], [12000, 8.54], [12400, 8.52], [12800, 8.55], [13200, 8.53], [13600, 8.54], [14000, 8.52], [14400, 8.55], [14800, 8.53],
  [15200, 8.54], [15600, 8.52], [16000, 8.56], [16400, 8.53], [16800, 8.54], [17200, 8.52], [17600, 8.55], [18000, 8.53], [18400, 8.54],
  [18800, 8.52], [19200, 8.55], [19600, 8.53], [20000, 8.54], [20400, 8.56],
  [250, 8.37], [1100, 8.38], [2000, 8.36], [2900, 8.38], [3800, 8.37], [4700, 8.38], [5600, 8.36], [6500, 8.38], [7400, 8.37], [8300, 8.36],
  [9200, 8.38], [10100, 8.37], [11000, 8.36], [11900, 8.38], [12800, 8.37], [13700, 8.38], [14600, 8.36], [15500, 8.37], [16400, 8.35],
  [17300, 8.38], [18200, 8.37], [19100, 8.36], [20000, 8.38],
];

const S17_MID = 393;
const S17_ENV_HI = [
  396, 398, 397, 399, 396, 398, 397, 399, 396, 398, 397, 399, 396, 398, 397, 398, 396, 399, 397, 398,
  396, 398, 397, 399, 396, 397, 398, 396, 399, 397, 398, 396, 398, 397, 399, 396, 398, 397, 398, 396,
  399, 397, 398, 396, 398, 397, 399, 396, 398, 397, 398, 396, 399, 397, 398, 396, 398, 397, 399, 396,
  398, 397, 398, 396, 399, 397, 398, 396, 398, 397, 399, 396, 398, 397, 398, 396, 399, 397, 398, 396,
  398, 397, 399, 396, 398, 397, 398, 396, 399, 397, 398, 396, 398, 397, 399, 396, 398, 397, 400, 398,
];
const S17_ENV_LO = [
  390, 389, 391, 389, 390, 391, 389, 390, 389, 391, 390, 389, 390, 391, 389, 390, 389, 391, 390, 389,
  391, 390, 389, 390, 391, 389, 390, 389, 391, 390, 389, 390, 391, 389, 390, 389, 391, 390, 389, 390,
  391, 389, 390, 389, 391, 390, 389, 390, 391, 389, 390, 389, 391, 390, 389, 390, 391, 389, 390, 389,
  391, 390, 389, 390, 391, 389, 388, 390, 389, 391, 390, 389, 390, 391, 389, 390, 389, 391, 390, 389,
  391, 390, 389, 390, 391, 389, 390, 389, 391, 390, 389, 390, 391, 389, 390, 389, 391, 390, 389, 390,
];
const S17_LO = [
  391, 391, 390, 391, 392, 391, 391, 390, 391, 391, 392, 391, 391, 390, 391, 392, 391, 391, 391, 390,
  391, 392, 391, 391, 390, 391, 391, 392, 391, 391, 390, 391, 391, 392, 391, 390, 391, 391, 392, 391,
  391, 390, 391, 391, 392, 391, 391, 390, 391, 391, 392, 391, 390, 391, 391, 392, 391, 391, 390, 391,
];
const S17_HI = [
  395, 395, 396, 395, 395, 396, 395, 395, 396, 395, 395, 396, 395, 395, 396, 395, 396, 395, 395, 396,
  395, 395, 396, 395, 396, 395, 395, 396, 395, 395, 396, 395, 395, 396, 395, 396, 395, 395, 396, 395,
  395, 396, 395, 395, 396, 395, 395, 396, 395, 396, 395, 395, 396, 395, 395, 396, 395, 396, 395, 396,
];
const S17_SPIKES = [
  [150, 398], [450, 399], [800, 397], [1150, 398], [1500, 399], [1850, 397], [2200, 398], [2550, 399], [2900, 397], [3250, 398],
  [3600, 397], [3950, 399], [4300, 398], [4650, 397], [5000, 398], [5350, 399], [5700, 397], [6050, 398], [6400, 397], [6750, 398],
  [7100, 399], [7450, 397], [7800, 398], [8150, 397], [8500, 399], [8850, 398], [9200, 397], [9550, 398], [9900, 399], [10250, 397],
  [10600, 398], [10950, 397], [11300, 399], [11650, 398], [12000, 397], [12350, 398], [12700, 399], [13050, 397], [13400, 398],
  [13750, 397], [14100, 398], [14450, 399], [14800, 397], [15150, 398], [15500, 397], [15850, 399], [16200, 398], [16550, 397],
  [16900, 398], [17250, 399], [17600, 397], [17950, 398], [18300, 397], [18650, 399], [19000, 398], [19350, 397], [19700, 398],
  [20050, 399], [20400, 400], [20580, 398],
  [300, 389], [900, 389], [1500, 388], [2100, 389], [2700, 389], [3300, 389], [3900, 388], [4500, 389], [5100, 389], [5700, 389],
  [6300, 388], [6900, 389], [7500, 389], [8100, 389], [8700, 388], [9300, 389], [9900, 389], [10500, 389], [11100, 388], [11700, 389],
  [12300, 389], [12900, 388], [13500, 389], [14100, 389], [14700, 388], [15300, 389], [15900, 389], [16500, 389], [17100, 388],
  [17700, 389], [18300, 389], [18900, 389], [19500, 388], [20100, 389],
];

const S20_MID = 38.85;
const S20_ENV_HI = [
  39.25, 39.20, 39.30, 39.18, 39.27, 39.22, 39.32, 39.20, 39.26, 39.18, 39.28, 39.21, 39.33, 39.19, 39.25, 39.20, 39.29, 39.22, 39.26, 39.18,
  39.30, 39.21, 39.27, 39.19, 39.24, 39.20, 39.28, 39.18, 39.26, 39.21, 39.30, 39.20, 39.27, 39.22, 39.31, 39.19, 39.28, 39.23, 39.34, 39.20,
  39.26, 39.21, 39.29, 39.18, 39.25, 39.20, 39.28, 39.19, 39.24, 39.21, 39.27, 39.19, 39.25, 39.20, 39.30, 39.21, 39.26, 39.19, 39.29, 39.22,
  39.27, 39.20, 39.31, 39.21, 39.25, 39.19, 39.28, 39.20, 39.26, 39.22, 39.30, 39.20, 39.27, 39.21, 39.25, 39.19, 39.28, 39.22, 39.33, 39.20,
  39.27, 39.21, 39.29, 39.19, 39.26, 39.21, 39.28, 39.20, 39.25, 39.19, 39.27, 39.21, 39.30, 39.20, 39.26, 39.19, 39.28, 39.21, 39.25, 39.20,
];
const S20_ENV_LO = [
  38.45, 38.25, 38.50, 38.30, 38.55, 38.28, 38.45, 38.22, 38.50, 38.30, 38.48, 38.25, 38.52, 38.32, 38.45, 38.26, 38.50, 38.30, 38.55, 38.28,
  38.47, 38.24, 38.50, 38.31, 38.46, 38.27, 38.52, 38.30, 38.48, 38.25, 38.50, 38.33, 38.55, 38.29, 38.48, 38.26, 38.52, 38.30, 38.46, 38.24,
  38.50, 38.28, 38.54, 38.31, 38.47, 38.26, 38.51, 38.30, 38.48, 38.27, 38.52, 38.30, 38.46, 38.25, 38.50, 38.29, 38.55, 38.32, 38.48, 38.26,
  38.52, 38.30, 38.47, 38.27, 38.51, 38.29, 38.46, 38.24, 38.50, 38.30, 38.54, 38.28, 38.47, 38.25, 38.51, 38.30, 38.48, 38.26, 38.52, 38.29,
  38.46, 38.25, 38.50, 38.31, 38.47, 38.26, 38.52, 38.29, 38.48, 38.22, 38.50, 38.28, 38.46, 38.25, 38.51, 38.29, 38.45, 38.24, 38.42, 38.15,
];
const S20_LO = [
  38.62, 38.58, 38.64, 38.60, 38.66, 38.61, 38.57, 38.63, 38.59, 38.65, 38.60, 38.56, 38.62, 38.58, 38.64, 38.60, 38.66, 38.62, 38.58, 38.63,
  38.59, 38.65, 38.61, 38.57, 38.62, 38.58, 38.64, 38.60, 38.56, 38.61, 38.57, 38.63, 38.59, 38.65, 38.60, 38.56, 38.62, 38.58, 38.64, 38.60,
  38.57, 38.62, 38.58, 38.64, 38.60, 38.56, 38.61, 38.57, 38.63, 38.59, 38.55, 38.61, 38.57, 38.63, 38.59, 38.55, 38.60, 38.56, 38.58, 38.52,
];
const S20_HI = [
  39.08, 39.10, 39.06, 39.11, 39.07, 39.12, 39.08, 39.05, 39.10, 39.06, 39.11, 39.07, 39.04, 39.09, 39.05, 39.10, 39.06, 39.12, 39.08, 39.05,
  39.09, 39.06, 39.11, 39.07, 39.04, 39.08, 39.05, 39.10, 39.06, 39.03, 39.08, 39.05, 39.10, 39.06, 39.12, 39.08, 39.04, 39.09, 39.06, 39.11,
  39.07, 39.04, 39.08, 39.05, 39.10, 39.06, 39.03, 39.08, 39.05, 39.10, 39.06, 39.03, 39.08, 39.05, 39.09, 39.06, 39.03, 39.07, 39.05, 39.08,
];
const S20_SPIKES = [
  [200, 39.30], [800, 39.25], [1400, 39.32], [2000, 39.22], [2600, 39.28], [3200, 39.24], [3800, 39.30], [4400, 39.22], [5000, 39.27],
  [5600, 39.23], [6200, 39.29], [6800, 39.25], [7400, 39.31], [8000, 39.24], [8600, 39.27], [9200, 39.34], [9800, 39.26], [10400, 39.29],
  [11000, 39.23], [11600, 39.28], [12200, 39.25], [12800, 39.30], [13400, 39.24], [14000, 39.27], [14600, 39.22], [15200, 39.28],
  [15800, 39.25], [16400, 39.31], [17000, 39.24], [17600, 39.27], [18200, 39.23], [18800, 39.29], [19400, 39.25], [20000, 39.28], [20500, 39.24],
  [250, 38.30], [600, 38.45], [950, 38.25], [1300, 38.40], [1650, 38.28], [2000, 38.42], [2350, 38.22], [2700, 38.38], [3050, 38.30],
  [3400, 38.44], [3750, 38.26], [4100, 38.40], [4450, 38.32], [4800, 38.22], [5150, 38.38], [5500, 38.28], [5850, 38.42], [6200, 38.25],
  [6550, 38.36], [6900, 38.30], [7250, 38.44], [7600, 38.24], [7950, 38.38], [8300, 38.29], [8650, 38.41], [9000, 38.26], [9350, 38.35],
  [9700, 38.28], [10050, 38.42], [10400, 38.24], [10750, 38.37], [11100, 38.30], [11450, 38.43], [11800, 38.26], [12150, 38.36],
  [12500, 38.29], [12850, 38.41], [13200, 38.23], [13550, 38.35], [13900, 38.30], [14250, 38.42], [14600, 38.27], [14950, 38.37],
  [15300, 38.24], [15650, 38.40], [16000, 38.30], [16350, 38.36], [16700, 38.25], [17050, 38.40], [17400, 38.28], [17750, 38.35],
  [18100, 38.26], [18450, 38.41], [18800, 38.29], [19150, 38.37], [19500, 38.22], [19850, 38.38], [20200, 38.27], [20580, 38.15],
];

const S21_MID = 23.28;
const S21_ENV_HI = [
  23.52, 23.60, 23.50, 23.55, 23.48, 23.54, 23.50, 23.57, 23.49, 23.53, 23.47, 23.55, 23.58, 23.50, 23.54, 23.48, 23.53, 23.50, 23.56, 23.48,
  23.52, 23.47, 23.54, 23.50, 23.52, 23.47, 23.55, 23.59, 23.50, 23.59, 23.52, 23.48, 23.53, 23.49, 23.51, 23.47, 23.55, 23.50, 23.54, 23.56,
  23.50, 23.60, 23.53, 23.57, 23.50, 23.55, 23.49, 23.53, 23.48, 23.52, 23.47, 23.54, 23.50, 23.55, 23.49, 23.58, 23.51, 23.54, 23.49, 23.56,
  23.50, 23.53, 23.48, 23.55, 23.51, 23.54, 23.49, 23.56, 23.50, 23.53, 23.48, 23.54, 23.51, 23.62, 23.52, 23.55, 23.49, 23.60, 23.54, 23.50,
  23.47, 23.53, 23.50, 23.55, 23.48, 23.54, 23.51, 23.56, 23.50, 23.53, 23.48, 23.56, 23.51, 23.54, 23.49, 23.58, 23.51, 23.55, 23.49, 23.52,
];
const S21_ENV_LO = [
  23.05, 22.96, 23.08, 22.97, 23.05, 23.00, 22.95, 23.06, 22.98, 23.04, 22.96, 23.07, 22.99, 23.03, 22.95, 23.05, 22.97, 23.06, 23.00, 22.96,
  23.04, 22.93, 23.05, 22.97, 23.02, 22.95, 23.06, 22.98, 23.03, 22.95, 23.06, 22.99, 23.04, 22.96, 23.05, 22.98, 23.02, 22.95, 23.06, 22.99,
  23.05, 22.97, 23.08, 23.00, 23.04, 22.96, 23.06, 22.98, 23.03, 22.95, 23.05, 22.97, 23.04, 22.93, 23.06, 22.99, 23.04, 22.96, 23.05, 22.98,
  23.03, 22.96, 23.06, 22.99, 23.04, 22.97, 23.05, 22.95, 23.03, 22.98, 23.06, 22.96, 23.04, 22.99, 23.02, 22.95, 22.92, 23.05, 22.98, 23.04,
  22.96, 23.06, 22.99, 23.03, 22.96, 23.05, 22.98, 23.04, 22.96, 23.05, 22.93, 22.98, 23.03, 22.96, 23.05, 22.88, 23.02, 22.97, 23.04, 22.94,
];
const S21_LO = [
  23.14, 23.10, 23.16, 23.12, 23.08, 23.13, 23.17, 23.11, 23.15, 23.10, 23.13, 23.09, 23.15, 23.11, 23.17, 23.12, 23.08, 23.14, 23.10, 23.16,
  23.12, 23.09, 23.14, 23.10, 23.16, 23.12, 23.18, 23.13, 23.09, 23.15, 23.11, 23.16, 23.12, 23.08, 23.14, 23.10, 23.15, 23.11, 23.17, 23.13,
  23.09, 23.14, 23.10, 23.16, 23.12, 23.09, 23.14, 23.11, 23.17, 23.12, 23.08, 23.13, 23.10, 23.15, 23.11, 23.08, 23.13, 23.10, 23.12, 23.09,
];
const S21_HI = [
  23.42, 23.45, 23.40, 23.44, 23.41, 23.46, 23.42, 23.39, 23.43, 23.40, 23.38, 23.42, 23.39, 23.44, 23.40, 23.37, 23.41, 23.38, 23.43, 23.40,
  23.44, 23.41, 23.46, 23.42, 23.39, 23.44, 23.41, 23.45, 23.42, 23.38, 23.42, 23.39, 23.44, 23.41, 23.46, 23.42, 23.39, 23.43, 23.40, 23.45,
  23.41, 23.38, 23.43, 23.40, 23.44, 23.41, 23.46, 23.42, 23.39, 23.44, 23.41, 23.45, 23.42, 23.39, 23.43, 23.40, 23.44, 23.41, 23.42, 23.39,
];
const S21_SPIKES = [
  [150, 23.60], [500, 23.55], [900, 23.52], [1300, 23.56], [1700, 23.50], [2100, 23.58], [2500, 23.52], [2900, 23.55], [3300, 23.49],
  [3700, 23.54], [4100, 23.51], [4500, 23.56], [4900, 23.50], [5300, 23.53], [5700, 23.60], [6100, 23.59], [6500, 23.52], [6900, 23.55],
  [7300, 23.50], [7700, 23.54], [8100, 23.52], [8400, 23.62], [8800, 23.55], [9200, 23.52], [9600, 23.56], [10000, 23.50], [10400, 23.54],
  [10800, 23.51], [11200, 23.58], [11600, 23.53], [12000, 23.55], [12400, 23.50], [12800, 23.54], [13200, 23.51], [13600, 23.55],
  [14000, 23.49], [14400, 23.53], [14800, 23.52], [15200, 23.56], [15600, 23.61], [16000, 23.54], [16400, 23.63], [16800, 23.55],
  [17200, 23.52], [17600, 23.54], [18000, 23.50], [18400, 23.55], [18800, 23.52], [19200, 23.57], [19600, 23.53], [20000, 23.58], [20400, 23.54],
  [250, 22.96], [600, 23.02], [950, 22.97], [1300, 23.04], [1650, 22.95], [2000, 23.01], [2350, 22.97], [2700, 23.05], [3050, 22.98],
  [3400, 23.02], [3750, 22.96], [4100, 23.04], [4450, 22.92], [4800, 23.00], [5150, 22.97], [5500, 23.03], [5850, 22.95], [6200, 23.01],
  [6550, 22.98], [6900, 23.04], [7250, 22.96], [7600, 23.02], [7950, 22.97], [8300, 23.03], [8650, 22.95], [9000, 23.01], [9350, 22.98],
  [9700, 23.04], [10050, 22.96], [10400, 23.02], [10750, 22.97], [11100, 22.93], [11450, 23.01], [11800, 22.98], [12150, 23.03],
  [12500, 22.96], [12850, 23.01], [13200, 22.97], [13550, 23.04], [13900, 22.96], [14250, 23.02], [14600, 22.98], [14950, 23.03],
  [15300, 22.92], [15650, 23.00], [16000, 22.97], [16350, 23.03], [16700, 22.95], [17050, 23.01], [17400, 22.98], [17750, 23.04],
  [18100, 22.96], [18450, 23.02], [18800, 22.97], [19150, 23.03], [19500, 22.88], [19850, 23.00], [20200, 22.96], [20580, 22.93],
];

type BandRow = { t: number; lo: number; hi: number };
type PointRow = { t: number; v: number | null };

function bandRows(lo: number[], hi: number[]): BandRow[] {
  const n = lo.length;
  return lo.map((l, i) => ({ t: Math.round((i * N_CYCLES) / (n - 1)), lo: l, hi: hi[i] }));
}

function flatRows(v: number): PointRow[] {
  return [
    { t: 0, v },
    { t: N_CYCLES, v },
  ];
}

// one vertical stroke per excursion, drawn from inside the dense core out to the value
function spikeRows(list: number[][], foot: number): PointRow[] {
  return list.flatMap(([t, peak]) => [
    { t, v: foot },
    { t, v: peak },
    { t, v: null },
  ]);
}

function dipRows(dips: number[][]): BandRow[] {
  const rows: BandRow[] = [{ t: 0, lo: S6_HIGH, hi: S6_HIGH }];
  dips.forEach(([a, b]) => {
    rows.push({ t: a, lo: S6_HIGH, hi: S6_HIGH });
    rows.push({ t: a, lo: S6_LOW, hi: S6_HIGH });
    rows.push({ t: b, lo: S6_LOW, hi: S6_HIGH });
    rows.push({ t: b, lo: S6_HIGH, hi: S6_HIGH });
  });
  rows.push({ t: N_CYCLES, lo: S6_HIGH, hi: S6_HIGH });
  return rows;
}

type PanelSpec = {
  title: string;
  domain: [number, number];
  ticks: number[];
  fmt?: (v: number) => string;
  env?: BandRow[];
  band?: BandRow[];
  flat?: number;
  spikes?: PointRow[];
  offset?: [string, string];
};

const fixed = (d: number) => (v: number) => v.toFixed(d);

const PANELS: PanelSpec[] = [
  { title: 's1', domain: [490.15, 547.19], ticks: [500, 525], flat: S1 },
  {
    title: 's2', domain: [641.07, 644.72], ticks: [642, 644],
    env: bandRows(S2_ENV_LO, S2_ENV_HI), band: bandRows(S2_LO, S2_HI), spikes: spikeRows(S2_SPIKES, S2_MID),
  },
  {
    title: 's3', domain: [1569, 1619], ticks: [1575, 1600],
    env: bandRows(S3_ENV_LO, S3_ENV_HI), band: bandRows(S3_LO, S3_HI), spikes: spikeRows(S3_SPIKES, S3_MID),
  },
  {
    title: 's4', domain: [1379.7, 1444], ticks: [1400, 1425],
    env: bandRows(S4_ENV_LO, S4_ENV_HI), band: bandRows(S4_LO, S4_HI), spikes: spikeRows(S4_SPIKES, S4_MID),
  },
  { title: 's5', domain: [13.816, 15.424], ticks: [14, 15], flat: S5 },
  {
    title: 's6', domain: [21.5995, 21.61042], ticks: [21.6, 21.61], fmt: (v) => (v - 21.6).toFixed(2),
    band: dipRows(S6_DIPS), offset: ['2.16 × 10', '1'],
  },
  {
    title: 's7', domain: [549.5, 556.4], ticks: [550, 555],
    env: bandRows(S7_ENV_LO, S7_ENV_HI), band: bandRows(S7_LO, S7_HI), spikes: spikeRows(S7_SPIKES, S7_MID),
  },
  {
    title: 's8', domain: [2387.872, 2388.589], ticks: [2388, 2388.5], fmt: (v) => (v - 2388).toFixed(1),
    env: bandRows(S8_ENV_LO, S8_ENV_HI), band: bandRows(S8_LO, S8_HI), spikes: spikeRows(S8_SPIKES, S8_MID),
    offset: ['2.388 × 10', '3'],
  },
  {
    title: 's9', domain: [9016, 9256], ticks: [9100, 9200],
    band: bandRows(S9_LO, S9_HI), spikes: spikeRows(S9_SPIKES, S9_FOOT),
  },
  { title: 's10', domain: [1.2285, 1.3715], ticks: [1.25, 1.3, 1.35], fmt: fixed(2), flat: S10 },
  {
    title: 's11', domain: [46.73, 48.64], ticks: [47, 48],
    env: bandRows(S11_ENV_LO, S11_ENV_HI), band: bandRows(S11_LO, S11_HI), spikes: spikeRows(S11_SPIKES, S11_MID),
  },
  {
    title: 's12', domain: [518.43, 523.69], ticks: [520, 522.5], fmt: fixed(1),
    env: bandRows(S12_ENV_LO, S12_ENV_HI), band: bandRows(S12_LO, S12_HI), spikes: spikeRows(S12_SPIKES, S12_MID),
  },
  {
    title: 's13', domain: [2387.85, 2388.587], ticks: [2388, 2388.5], fmt: (v) => (v - 2388).toFixed(1),
    env: bandRows(S13_ENV_LO, S13_ENV_HI), band: bandRows(S13_LO, S13_HI), spikes: spikeRows(S13_SPIKES, S13_MID),
    offset: ['2.388 × 10', '3'],
  },
  {
    title: 's14', domain: [8087.5, 8306], ticks: [8100, 8200, 8300],
    band: bandRows(S14_LO, S14_HI), spikes: spikeRows(S14_SPIKES, S14_FOOT),
  },
  {
    title: 's15', domain: [8.346, 8.58], ticks: [8.4, 8.5], fmt: fixed(1),
    env: bandRows(S15_ENV_LO, S15_ENV_HI), band: bandRows(S15_LO, S15_HI), spikes: spikeRows(S15_SPIKES, S15_MID),
  },
  { title: 's16', domain: [0.02835, 0.03165], ticks: [0.029, 0.03, 0.031], fmt: fixed(3), flat: S16 },
  {
    title: 's17', domain: [387.2, 400.6], ticks: [390, 400],
    env: bandRows(S17_ENV_LO, S17_ENV_HI), band: bandRows(S17_LO, S17_HI), spikes: spikeRows(S17_SPIKES, S17_MID),
  },
  { title: 's18', domain: [2256.7, 2519.3], ticks: [2300, 2400, 2500], flat: S18 },
  { title: 's19', domain: [94.5, 105.5], ticks: [95, 100, 105], flat: S19 },
  {
    title: 's20', domain: [38.06, 39.46], ticks: [38.5, 39], fmt: fixed(1),
    env: bandRows(S20_ENV_LO, S20_ENV_HI), band: bandRows(S20_LO, S20_HI), spikes: spikeRows(S20_SPIKES, S20_MID),
  },
  {
    title: 's21', domain: [22.867, 23.645], ticks: [23, 23.5], fmt: fixed(1),
    env: bandRows(S21_ENV_LO, S21_ENV_HI), band: bandRows(S21_LO, S21_HI), spikes: spikeRows(S21_SPIKES, S21_MID),
  },
];

const CHART_W = AXIS_W + BOX_W + PAD_RIGHT;
const CHART_H = PAD_TOP + BOX_H + AXIS_H;
const MARGIN = { top: PAD_TOP, right: PAD_RIGHT, bottom: 0, left: 0 };

// same axes on every layer; only the top layer shows them
function axes(spec: PanelSpec, row: number, col: number, visible: boolean) {
  return [
    <XAxis
      key="x"
      type="number"
      dataKey="t"
      domain={X_DOMAIN}
      ticks={X_TICKS}
      interval={0}
      allowDataOverflow
      tickFormatter={(v: number) => v.toLocaleString('en-US')}
      axisLine={false}
      tickSize={11}
      tickMargin={row === 0 ? 30 : 22}
      tickLine={visible ? { stroke: '#111', strokeWidth: 1.6 } : false}
      tick={visible ? { fill: '#111', fontSize: 34, fontFamily: SANS, dx: COL_LABEL_DX[col] } : false}
      height={AXIS_H}
    />,
    <YAxis
      key="y"
      type="number"
      domain={spec.domain}
      ticks={spec.ticks}
      interval={0}
      allowDataOverflow
      tickFormatter={spec.fmt ?? ((v: number) => String(v))}
      axisLine={false}
      tickSize={10}
      tickMargin={17}
      tickLine={visible ? { stroke: '#111', strokeWidth: 1.6 } : false}
      tick={visible ? { fill: '#111', fontSize: 31, fontFamily: SANS } : false}
      width={AXIS_W}
    />,
  ];
}

function Panel({ spec, idx }: { spec: PanelSpec; idx: number }) {
  const col = idx % 3;
  const row = Math.floor(idx / 3);
  const left = COL_X[col];
  const top = ROW_Y[row];
  const data = spec.band ?? flatRows(spec.flat ?? 0);

  return (
    <>
      <div style={{ position: 'absolute', left: left - AXIS_W, top: top - PAD_TOP, width: CHART_W, height: CHART_H }}>
        {spec.env && (
          <div style={{ position: 'absolute', left: 0, top: 0 }}>
            <ComposedChart width={CHART_W} height={CHART_H} data={spec.env} margin={MARGIN}>
              {axes(spec, row, col, false)}
              <Area
                type="linear"
                dataKey={(d: BandRow) => [d.lo, d.hi]}
                stroke={BLUE}
                strokeOpacity={0.6}
                strokeWidth={1}
                fill={BLUE}
                fillOpacity={0.72}
                isAnimationActive={false}
              />
            </ComposedChart>
          </div>
        )}
        <div style={{ position: 'absolute', left: 0, top: 0 }}>
          <ComposedChart width={CHART_W} height={CHART_H} data={data} margin={MARGIN}>
            {axes(spec, row, col, true)}
            {spec.band ? (
              <Area
                type="linear"
                dataKey={(d: BandRow) => [d.lo, d.hi]}
                stroke={BLUE}
                strokeWidth={1}
                fill={BLUE}
                fillOpacity={1}
                isAnimationActive={false}
              />
            ) : (
              <Line type="linear" dataKey="v" stroke={FLAT} strokeWidth={2} dot={false} isAnimationActive={false} />
            )}
            {spec.spikes && (
              <Line
                data={spec.spikes}
                type="linear"
                dataKey="v"
                stroke={BLUE}
                strokeWidth={1.5}
                dot={false}
                connectNulls={false}
                isAnimationActive={false}
              />
            )}
          </ComposedChart>
        </div>
      </div>
      <div
        style={{
          position: 'absolute', left: left - 1, top: top - 1, width: BOX_W + 2, height: BOX_H + 2,
          border: '2px solid #222', boxSizing: 'border-box', pointerEvents: 'none',
        }}
      />
      <div
        style={{
          position: 'absolute', left, top: top - 45, width: BOX_W, textAlign: 'center',
          fontFamily: SANS, fontSize: 33, lineHeight: '33px', color: '#111',
        }}
      >
        {spec.title}
      </div>
      {spec.offset && (
        <div
          style={{
            position: 'absolute', left: left + 4, top: top - 40, whiteSpace: 'nowrap',
            fontFamily: SERIF, fontSize: 40, lineHeight: '40px', color: '#111',
          }}
        >
          {spec.offset[0]}
          <span style={{ fontSize: 25, position: 'relative', top: -15 }}>{spec.offset[1]}</span>
        </div>
      )}
    </>
  );
}

// faint notebook cell borders on the right and bottom edge of the screenshot
function CellEdges() {
  const color = '#d6d6d6';
  const segs: { l: number; t: number; w: number; h: number }[] = [];
  let y = 36;
  ROW_Y.forEach((rt) => {
    const n0 = rt + 188;
    const n1 = n0 + 72;
    segs.push({ l: 3186, t: y, w: 2, h: n0 - y });
    segs.push({ l: 3186, t: n0, w: 26, h: 2 });
    segs.push({ l: 3210, t: n0, w: 2, h: n1 - n0 });
    segs.push({ l: 3186, t: n1, w: 26, h: 2 });
    y = n1;
  });
  segs.push({ l: 0, t: y, w: 3212, h: 2 });
  return (
    <>
      {segs.map((s, i) => (
        <div key={i} style={{ position: 'absolute', left: s.l, top: s.t, width: s.w, height: s.h, background: color }} />
      ))}
    </>
  );
}

export default function App() {
  return (
    <div style={{ position: 'absolute', left: 0, top: 0, width: 3243, height: 2187, background: '#fff', overflow: 'hidden' }}>
      {PANELS.map((p, i) => (
        <Panel key={p.title} spec={p} idx={i} />
      ))}
      <CellEdges />
    </div>
  );
}
